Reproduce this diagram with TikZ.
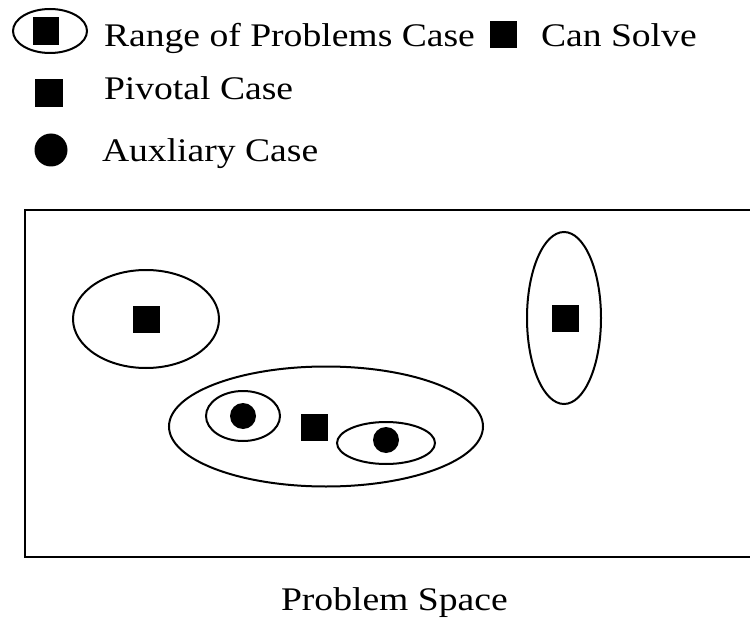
\documentclass[tikz,border=0pt]{standalone}
\usepackage{fontspec}
\setmainfont{Liberation Serif}
\usepackage{graphicx}
\newcommand{\widetext}[1]{\scalebox{1.14}[1]{#1}}

\begin{document}
\begin{tikzpicture}[x=1pt,y=-1pt,line width=2pt,
  font=\fontsize{33}{40}\selectfont,
  txt/.style={anchor=base west,inner sep=0pt},
  pivot/.style={fill,inner sep=0pt,minimum width=27pt,minimum height=27pt},
  aux/.style={circle,fill,inner sep=0pt,minimum size=26pt}]
  \useasboundingbox (0,0) rectangle (750,623);
  \draw (50,31) ellipse [x radius=37pt,y radius=22pt];
  \node[pivot,minimum width=26pt,minimum height=28pt] (keyrange) at (46,31) {};
  \node[txt] (rangetext) at (103,47) {\widetext{Range of Problems Case}};
  \node[pivot] (keysolve) at (503.5,34.5) {};
  \node[txt] (solvetext) at (540,47) {\widetext{Can Solve}};
  \node[pivot,minimum width=28pt,minimum height=28pt] (keypivot) at (49,93) {};
  \node[txt] (pivottext) at (103,100) {\widetext{Pivotal Case}};
  \node[aux,minimum size=33pt] (keyaux) at (51,150) {};
  \node[txt] (auxtext) at (101,162) {\widetext{Auxliary Case}};
  \draw (751,210) -- (25,210) -- (25,557) -- (751,557);
  \draw (146,319) ellipse [x radius=73pt,y radius=49pt];
  \node[pivot] (pivleft) at (146,319) {};
  \draw (564,318) ellipse [x radius=37pt,y radius=86pt];
  \node[pivot] (pivright) at (565,318) {};
  \draw (326,426.5) ellipse [x radius=157pt,y radius=60pt];
  \draw (243,416) ellipse [x radius=37pt,y radius=25pt];
  \node[aux] (auxleft) at (243,416) {};
  \node[pivot] (pivmid) at (314,427) {};
  \draw (386,443) ellipse [x radius=49pt,y radius=21pt];
  \node[aux] (auxright) at (386,440) {};
  \node[txt] (spacetext) at (280,610) {\widetext{Problem Space}};
\end{tikzpicture}
\end{document}
